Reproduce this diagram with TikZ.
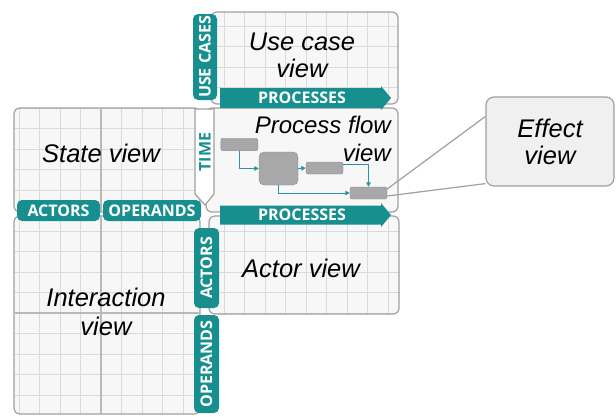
\documentclass[tikz,border=0pt]{standalone}
\usepackage{fontspec}
\setmainfont{Liberation Sans}
\newfontfamily\tabfont{Open Sans}
\usetikzlibrary{arrows.meta,calc,fit}
\definecolor{teal1}{RGB}{23,143,143}
\definecolor{boxc}{RGB}{160,160,160}
\definecolor{gridc}{RGB}{218,218,218}
\definecolor{midc}{RGB}{185,185,185}
\definecolor{boxfill}{RGB}{247,247,247}
\definecolor{flowc}{RGB}{45,145,170}
\definecolor{procc}{RGB}{168,168,168}
\definecolor{efffill}{RGB}{240,240,240}
\newcommand\mygrid{%
  \foreach \i in {-6,...,15}{\draw[gridc,line width=0.8pt] ({101+20.5*\i},-10) -- ({101+20.5*\i},430);}%
  \foreach \j in {-16,...,6}{\draw[gridc,line width=0.8pt] (-10,{313+20.5*\j}) -- (630,{313+20.5*\j});}%
}
\newcommand\panelbg[5]{% x1 y1 x2 y2 grid
  \path[fill=boxfill,rounded corners=6pt] (#1,#2) rectangle (#3,#4);
  \ifnum#5=1 \begin{scope}\clip[rounded corners=6pt] (#1,#2) rectangle (#3,#4);\mygrid\end{scope}\fi
}
\tikzset{
  panel/.style={draw=boxc,line width=1.2pt,rounded corners=6pt,inner sep=0pt},
  viewtxt/.style={font=\fontsize{25.5}{27}\selectfont\itshape,align=center,inner sep=0pt},
  tabbox/.style={fill=teal1,rounded corners=5pt,inner sep=0pt},
  tabtxt/.style={text=white,font=\tabfont\bfseries\fontsize{16}{16}\selectfont,inner sep=0pt},
  proc/.style={fill=procc,draw=procc!85!black,line width=0.4pt,rounded corners=2pt,inner sep=0pt},
  flow/.style={flowc,line width=1pt,-{Triangle[length=4.5pt,width=4.5pt]}},
  callout/.style={boxc,line width=1.2pt},
}
\begin{document}
\begin{tikzpicture}[x=1pt,y=-1pt]
\useasboundingbox (0,0) rectangle (616,416);
% panels backgrounds
\panelbg{211}{12}{398}{104}{1}
\panelbg{14}{108}{200}{212}{1}
\panelbg{206}{108}{398}{212}{0}
\panelbg{14}{216}{200}{414}{1}
\panelbg{209}{216}{399}{314}{1}
% panel borders
\node[panel,fit={(211,12)(398,104)}] (uc) {};
\node[panel,fit={(14,108)(200,212)}] (st) {};
\node[panel,fit={(206,108)(398,212)}] (pf) {};
\node[panel,fit={(14,216)(200,414)}] (ia) {};
\node[panel,fit={(209,216)(399,314)}] (ac) {};
% mid lines
\draw[midc,line width=1.3pt] (101,109) -- (101,211);
\draw[midc,line width=1.3pt] (101,217) -- (101,413);
\draw[midc,line width=1.3pt] (15,313) -- (199,313);
% TIME arrow
\draw[fill=white,draw=boxc,line width=1.2pt] (195,109) -- (214,109) -- (214,194) -- (205,205) -- (195,194) -- cycle;
\node[text=teal1,font=\tabfont\bfseries\fontsize{16}{16}\selectfont,rotate=90,inner sep=0pt] (time) at (205,152) {TIME};
% PROCESSES arrows
\fill[teal1] (220,88) -- (381,88) -- (381,86) -- (391,98) -- (381,110) -- (381,108) -- (220,108) -- cycle;
\node[tabtxt] (p1) at (302,98) {PROCESSES};
\fill[teal1] (220,205.5) -- (381,205.5) -- (381,203) -- (391,215) -- (381,227) -- (381,224.5) -- (220,224.5) -- cycle;
\node[tabtxt] (p2) at (302,215) {PROCESSES};
% vertical tabs
\node[tabbox,fit={(193,14)(217,100)}] (uctab) {};
\node[tabtxt,rotate=90] at (uctab.center) {USE CASES};
\node[tabbox,fit={(194,228)(219,308)}] (actab) {};
\node[tabtxt,rotate=90] at (actab.center) {ACTORS};
\node[tabbox,fit={(194,315)(219,413)}] (optab) {};
\node[tabtxt,rotate=90] at (optab.center) {OPERANDS};
% horizontal tabs
\node[tabbox,fit={(17,200)(100,221)}] (actab2) {};
\node[tabtxt] at (actab2.center) {ACTORS};
\node[tabbox,fit={(103,200)(201,221)}] (optab2) {};
\node[tabtxt] at (optab2.center) {OPERANDS};
% view labels
\node[viewtxt] (uct) at (302,55) {Use case\\view};
\node[viewtxt] (stt) at (101,153) {State view};
\node[viewtxt,align=right,anchor=east,font=\fontsize{24}{28}\selectfont\itshape] (pft) at (391,139) {Process flow\\view};
\node[viewtxt] (act) at (301,268) {Actor view};
\node[viewtxt,font=\fontsize{25.5}{29}\selectfont\itshape] (iat) at (106,312) {Interaction\\view};
% process flow mini diagram
\node[proc,minimum width=37pt,minimum height=12.5pt] (r1) at (239.3,144.5) {};
\node[proc,rounded corners=5pt,minimum width=39pt,minimum height=33pt] (sq) at (278.5,168.5) {};
\node[proc,minimum width=37pt,minimum height=12pt] (r2) at (324.5,168) {};
\node[proc,minimum width=37pt,minimum height=12pt] (r3) at (368.5,193) {};
\draw[flow] (r1.south) |- (sq.west);
\draw[flow] (sq.east) -- (r2.west);
\draw[flow] ($(r2.east)+(0,-4)$) -| (r3.north);
\draw[flow] (sq.south) |- (r3.west);
% effect view callout
\node[draw=boxc,fill=efffill,line width=1.2pt,rounded corners=8pt,minimum width=128pt,minimum height=89pt,viewtxt] (eff) at (550,141.5) {Effect\\view};
\draw[callout] ($(r3.east)+(0,-4)$) -- ($(eff.north west)+(0,20)$);
\draw[callout] ($(r3.east)+(0,3)$) -- ($(eff.south west)+(0,-3)$);
\end{tikzpicture}
\end{document}
